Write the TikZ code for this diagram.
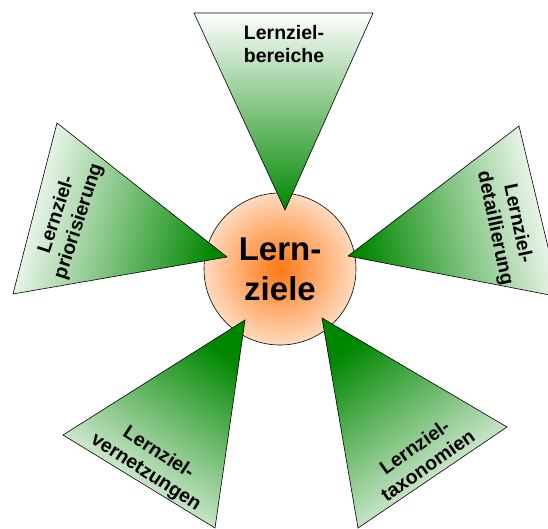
\documentclass[tikz,border=0pt]{standalone}
\usepackage{fontspec}
\setmainfont{Liberation Sans}
\definecolor{tipgreen}{RGB}{0,135,0}
\definecolor{coreorange}{RGB}{255,120,20}
\definecolor{rimpeach}{RGB}{255,218,190}
\tikzset{
	lztri/.style={draw=black, line width=0.6pt, shading=axis, top color=white, bottom color=tipgreen, shading angle=#1},
	lzlabel/.style={font=\bfseries\fontsize{19.5}{23}\selectfont, align=center, inner sep=0pt},
	lzcore/.style={circle, draw=black, line width=0.6pt, minimum size=152pt, inner color=coreorange, outer color=rimpeach, font=\bfseries\fontsize{33}{40}\selectfont, align=center}
}
\begin{document}
\begin{tikzpicture}[x=1pt,y=-1pt]
	\useasboundingbox (0,0) rectangle (548,529);
	% centre
	\node[lzcore] (core) at (280,269) {Lern-\\ziele};
	
	% tips
	\coordinate (tipB) at (285,210);
	\coordinate (tipP) at (227,257);
	\coordinate (tipD) at (348,256);
	\coordinate (tipV) at (245,320);
	\coordinate (tipT) at (322,318);
	
	\shade[lztri=0] (194,13) -- (373,13) -- (tipB) -- cycle;
	\shade[lztri=75.8] (57,123) -- (13,294) -- (tipP) -- cycle;
	\shade[lztri=-76.9] (519,126) -- (560,297) -- (tipD) -- cycle;
	\shade[lztri=146.7] (63,435) -- (215,528) -- (tipV) -- cycle;
	\shade[lztri=-145.3] (507,427) -- (358,528) -- (tipT) -- cycle;
	
	\node[lzlabel] (bereiche) at (284,44) {Lernziel-\\bereiche};
	\node[lzlabel, rotate=72] (priorisierung) at (68,218) {Lernziel-\\priorisierung};
	\node[lzlabel, rotate=-78] (detaillierung) at (506,226) {Lernziel-\\detaillierung};
	\node[lzlabel, rotate=-33] (vernetzungen) at (152,463) {Lernziel-\\vernetzungen};
	\node[lzlabel, rotate=35] (taxonomien) at (421,456) {Lernziel-\\taxonomien};
\end{tikzpicture}
\end{document}
